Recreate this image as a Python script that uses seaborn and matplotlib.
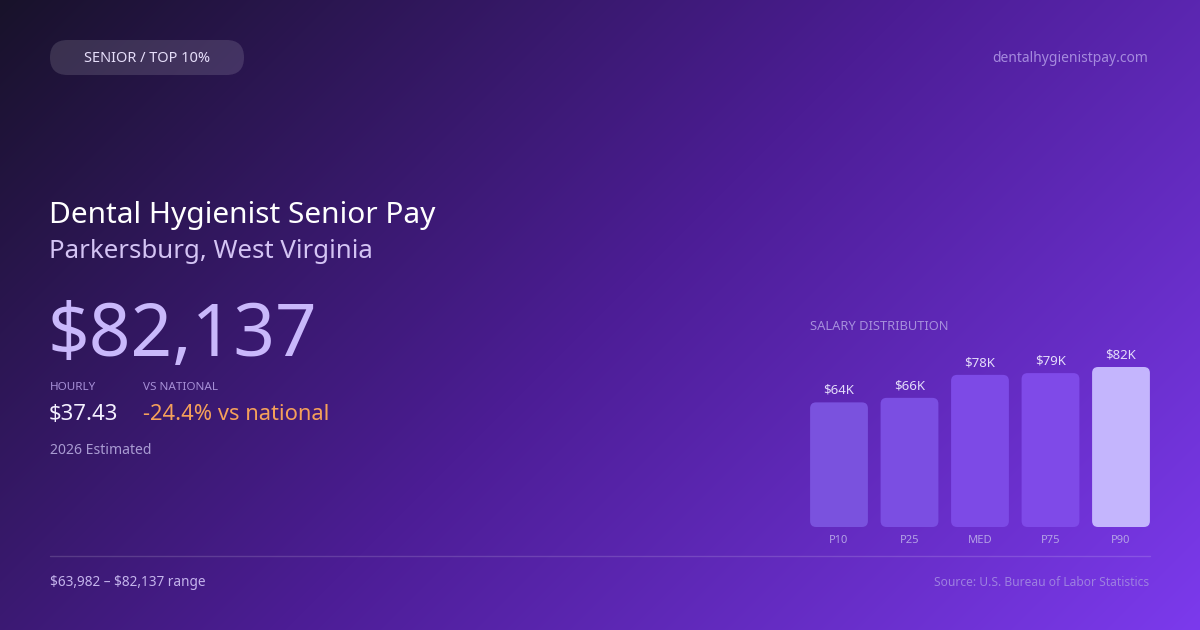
import numpy as np
import pandas as pd
import matplotlib
matplotlib.use("Agg")
import matplotlib.pyplot as plt
import seaborn as sns
from matplotlib.patches import FancyBboxPatch

# ---- data ----
categories = ["P10", "P25", "MED", "P75", "P90"]
salaries = [63982, 66300, 78100, 79000, 82137]
value_labels = ["$64K", "$66K", "$78K", "$79K", "$82K"]
bar_colors = ["#7a52de", "#7b4ee2", "#7d4ae6", "#7f4ae8", "#c4b5fd"]

badge_text = "SENIOR / TOP 10%"
site_text = "dentalhygienistpay.com"
title_text = "Dental Hygienist Senior Pay"
subtitle_text = "Parkersburg, West Virginia"
big_value = "$82,137"
hourly_label = "HOURLY"
hourly_value = "$37.43"
vs_label = "VS NATIONAL"
vs_value = "-24.4% vs national"
estimate_text = "2026 Estimated"
range_text = "$63,982 \u2013 $82,137 range"
source_text = "Source: U.S. Bureau of Labor Statistics"
dist_title = "SALARY DISTRIBUTION"

sns.set_theme(style="white")
plt.rcParams["font.family"] = ["Noto Sans", "DejaVu Sans"]
plt.rcParams["text.parse_math"] = False

W, H = 1200, 630
fig = plt.figure(figsize=(12, 6.3), dpi=100)

# ---- background gradient (135deg) ----
ax_bg = fig.add_axes([0, 0, 1, 1])
xx, yy = np.meshgrid(np.arange(W), np.arange(H))
t = (xx + yy) / (W + H)
stops_t = [0.0, 0.5, 1.0]
stops_c = np.array([[24, 18, 42], [76, 29, 149], [124, 58, 237]]) / 255.0
img = np.zeros((H, W, 3))
for k in range(3):
    img[..., k] = np.interp(t, stops_t, stops_c[:, k])
ax_bg.imshow(img, extent=[0, W, H, 0], aspect="auto", interpolation="bilinear")
ax_bg.set_xlim(0, W)
ax_bg.set_ylim(H, 0)
ax_bg.axis("off")

# badge
badge = FancyBboxPatch((50, 40), 194, 35,
                       boxstyle="round,pad=0,rounding_size=17.5",
                       facecolor=(1, 1, 1, 0.13), edgecolor="none")
ax_bg.add_patch(badge)
ax_bg.text(147, 58.5, badge_text, color="#e6defa", fontsize=10.5,
           ha="center", va="center", fontweight="medium")
ax_bg.text(1148, 58, site_text, color="#a58ade", fontsize=10, ha="right", va="center")

# titles
ax_bg.text(49, 216, title_text, color="#ffffff", fontsize=21.5, ha="left", va="center")
ax_bg.text(49, 252, subtitle_text, color="#d4c4f4", fontsize=18.6, ha="left", va="center")
ax_bg.text(47, 337, big_value, color="#c9b8fb", fontsize=52.5, ha="left", va="center")

ax_bg.text(50, 388, hourly_label, color="#a68fd6", fontsize=8.4, ha="left", va="center")
ax_bg.text(143, 388, vs_label, color="#a68fd6", fontsize=8.4, ha="left", va="center")
ax_bg.text(49, 415, hourly_value, color="#f4f0ff", fontsize=15.9, ha="left", va="center")
ax_bg.text(143, 415, vs_value, color="#f5a05a", fontsize=15.8, ha="left", va="center")
ax_bg.text(50, 451, estimate_text, color="#a99bd2", fontsize=10.1, ha="left", va="center")

ax_bg.plot([50, 1150], [556, 556], color=(1, 1, 1, 0.15), lw=1)
ax_bg.text(50, 582, range_text, color="#c4b4ec", fontsize=9.8, ha="left", va="center")
ax_bg.text(1149, 582, source_text, color="#9d80e0", fontsize=8.7, ha="right", va="center")
ax_bg.text(810, 326, dist_title, color="#a68fdc", fontsize=9.3, ha="left", va="center")

# ---- bar chart ----
df = pd.DataFrame({"pct": categories, "salary": salaries})
ax = fig.add_axes([803.75 / W, 103 / H, 352.5 / W, 160 / H])
ax.patch.set_alpha(0)
sns.barplot(data=df, x="pct", y="salary", hue="pct", palette=bar_colors,
            order=categories, hue_order=categories, legend=False,
            width=0.82, ax=ax, saturation=1)
ax.set_ylim(0, max(salaries))
ax.set_xlim(-0.5, len(categories) - 0.5)

x_per_px = 1 / 70.5
y_per_px = max(salaries) / 160.0
r_px = 6
for p in list(ax.patches):
    x0, y0 = p.get_x(), p.get_y()
    w, h = p.get_width(), p.get_height()
    fc = p.get_facecolor()
    p.set_visible(False)
    fb = FancyBboxPatch((x0, y0), w, h,
                        boxstyle=f"round,pad=0,rounding_size={r_px * x_per_px}",
                        mutation_aspect=y_per_px / x_per_px,
                        facecolor=fc, edgecolor="none", clip_on=False)
    ax.add_patch(fb)

for i, (v, lab) in enumerate(zip(salaries, value_labels)):
    ax.text(i, v + 12 * y_per_px, lab, color="#e4dcfa", fontsize=9.5,
            ha="center", va="center", clip_on=False)

ax.set_xlabel("")
ax.set_ylabel("")
ax.set_yticks([])
ax.tick_params(axis="x", length=0, pad=6, labelsize=8, labelcolor="#b4a2e6")
for s in ax.spines.values():
    s.set_visible(False)

fig.savefig("out.png", dpi=100)
